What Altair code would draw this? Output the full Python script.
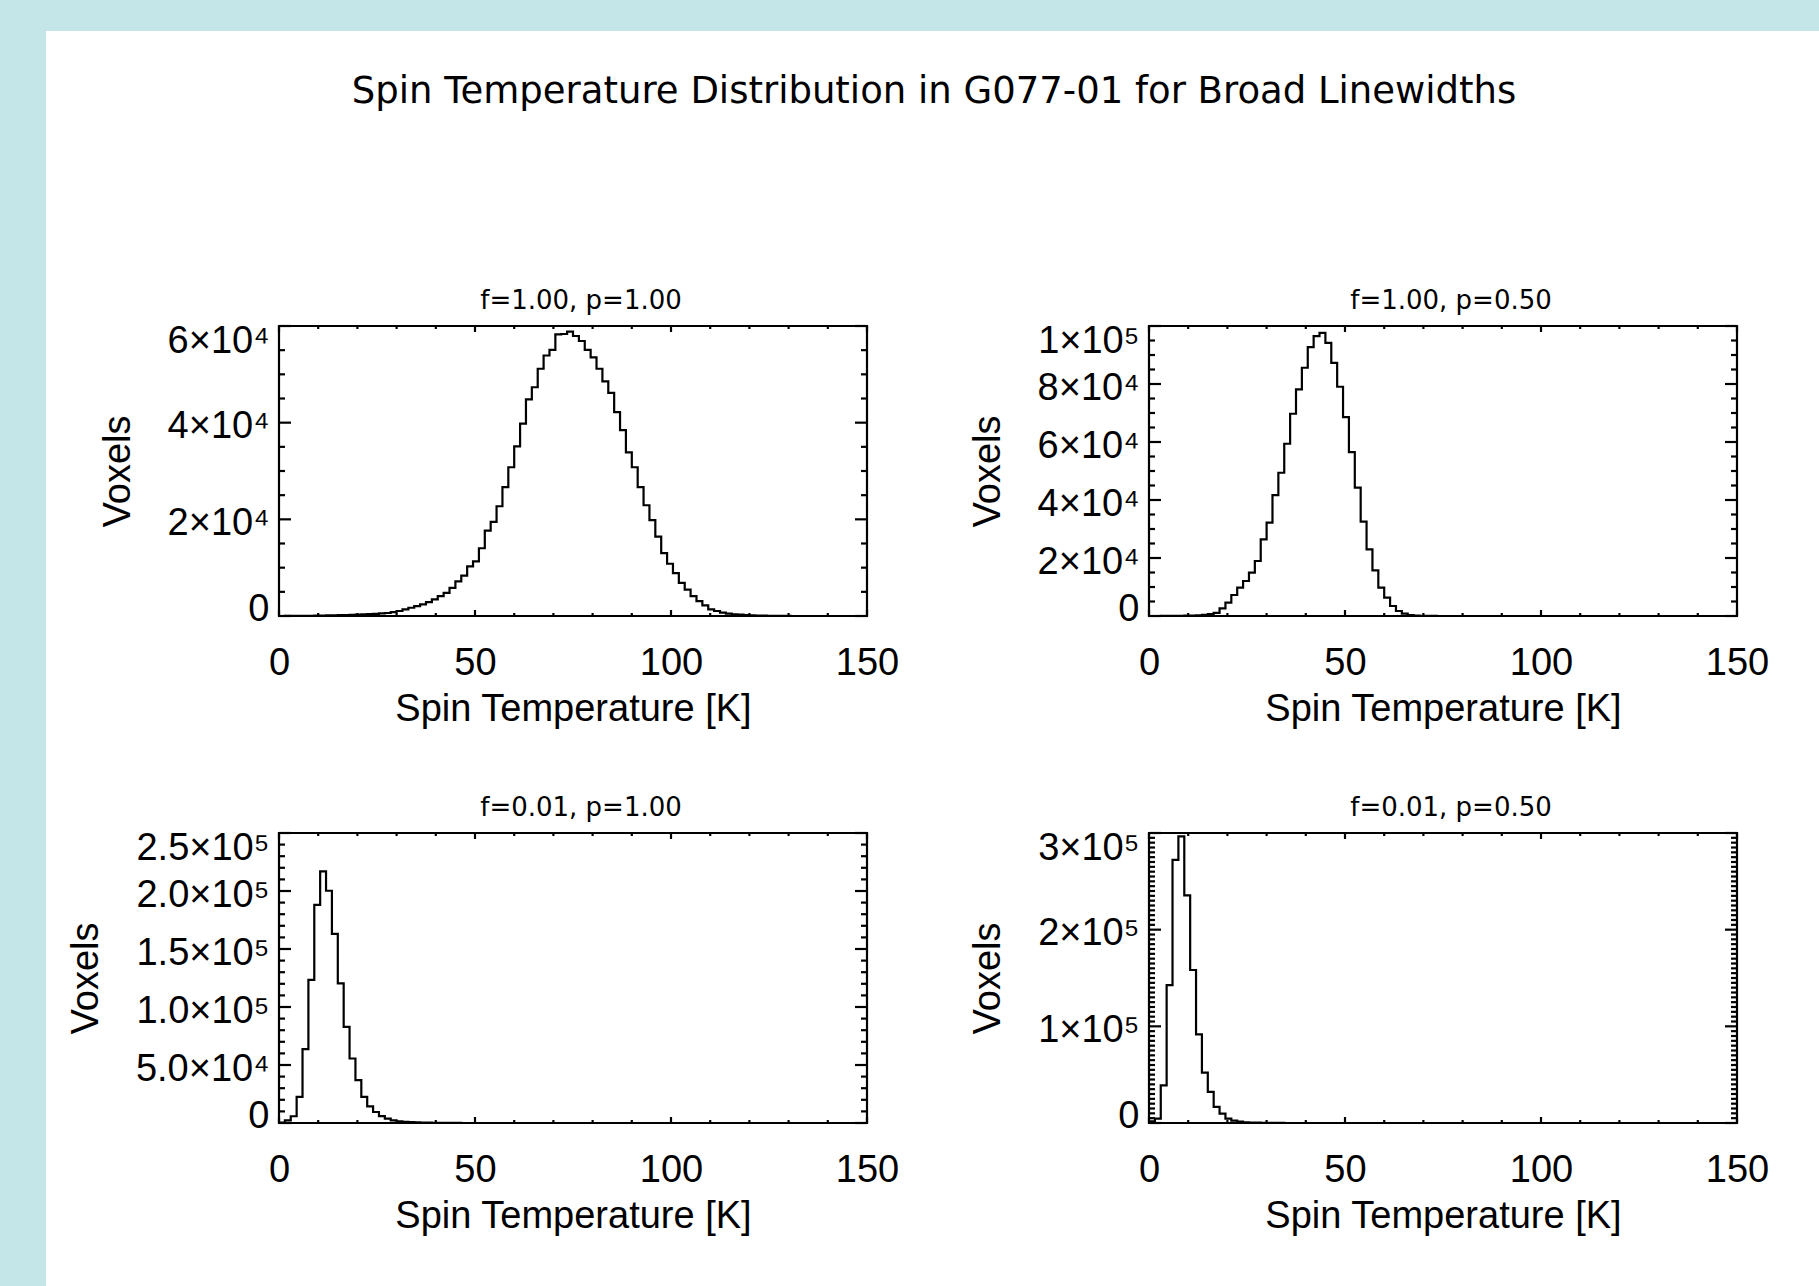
import altair as alt
import pandas as pd

CYAN = "#c5e6e8"
BIN_WIDTH = 1.5
N_BINS = 100
X_MAX = 150

TITLE = "Spin Temperature Distribution in G077-01 for Broad Linewidths"
X_TITLE = "Spin Temperature [K]"
Y_TITLE = "Voxels"
PANEL_TITLES = ["f=1.00, p=1.00", "f=1.00, p=0.50", "f=0.01, p=1.00", "f=0.01, p=0.50"]

X_TICKS = [0, 50, 100, 150]
X_MINOR = [10, 20, 30, 40, 60, 70, 80, 90, 110, 120, 130, 140]

# voxel counts per 1.5 K bin, starting at 0 K
COUNTS_F100_P100 = [
    0, 10, 20, 30, 40, 50, 70, 90, 110, 140,
    170, 200, 240, 280, 330, 390, 460, 540, 620, 800,
    1030, 1370, 1710, 2050, 2390, 2870, 3420, 4100, 4790, 5810,
    7180, 8340, 10260, 11290, 14020, 17650, 19490, 22710, 26680, 30780,
    35090, 39810, 44800, 47330, 51160, 53900, 55060, 58280, 58350, 58820,
    57930, 56900, 55060, 53490, 51160, 48560, 46170, 42200, 38440, 33860,
    30780, 26680, 22910, 19840, 16420, 13000, 10810, 8890, 6840, 5470,
    4100, 3080, 2190, 1370, 1030, 680, 480, 340, 270, 200,
    140, 100, 70, 50, 30, 20, 10,
]
COUNTS_F100_P050 = [
    0, 5, 10, 20, 35, 60, 100, 160, 250, 400,
    650, 1100, 2640, 4600, 7240, 9770, 12070, 14940, 18960, 26430,
    32170, 41710, 49400, 59400, 69750, 78130, 85600, 92700, 96500, 97650,
    94200, 87300, 79050, 68600, 56540, 44240, 32520, 22980, 15740, 9770,
    6320, 3450, 1720, 800, 350, 150, 70, 35, 15, 8,
    4, 2,
]
COUNTS_F001_P100 = [
    300, 2300, 5800, 22500, 63600, 123300, 188000, 216900, 200200, 163000,
    120400, 82900, 55600, 36900, 22500, 14400, 9500, 6000, 3700, 2300,
    1400, 1000, 700, 500, 350, 250, 170, 120, 80, 50,
    30, 20, 10,
]
COUNTS_F001_P050 = [
    1700, 4500, 39000, 142700, 272300, 296500, 235400, 158300, 91600, 52200,
    32100, 16600, 9700, 4500, 2400, 1400, 800, 500, 300, 200,
    100, 60, 30, 10,
]
COUNTS = [COUNTS_F100_P100, COUNTS_F100_P050, COUNTS_F001_P100, COUNTS_F001_P050]

Y_MAX = [60000, 100000, 250000, 300000]
Y_TICKS = [
    [0, 20000, 40000, 60000],
    [0, 20000, 40000, 60000, 80000, 100000],
    [0, 50000, 100000, 150000, 200000, 250000],
    [0, 100000, 200000, 300000],
]
Y_LABELS = [
    ["0", "2×10⁴", "4×10⁴", "6×10⁴"],
    ["0", "2×10⁴", "4×10⁴", "6×10⁴", "8×10⁴", "1×10⁵"],
    ["0", "5.0×10⁴", "1.0×10⁵", "1.5×10⁵", "2.0×10⁵", "2.5×10⁵"],
    ["0", "1×10⁵", "2×10⁵", "3×10⁵"],
]
Y_MINOR_STEP = [5000, 5000, 10000, 5000]

W, H = 588, 290
Y_MAJ_LEN, Y_MIN_LEN = 12, 6
X_MAJ_LEN, X_MIN_LEN = 6, 3
LW = 2.2
FONT = "Liberation Sans"


def label_expr(values, labels):
    parts = [f"datum.value == {v} ? '{l}'" for v, l in zip(values, labels)]
    return " : ".join(parts) + " : ''"


def panel(k):
    counts = COUNTS[k] + [0] * (N_BINS - len(COUNTS[k]))
    edges = [i * BIN_WIDTH for i in range(N_BINS + 1)]
    hist = pd.DataFrame({"t": edges, "n": counts + [counts[-1]]})
    xs = alt.Scale(domain=[0, X_MAX], nice=False, zero=False)
    ys = alt.Scale(domain=[0, Y_MAX[k]], nice=False)
    x_axis = alt.Axis(
        values=X_TICKS, title=X_TITLE, ticks=False, domain=False, grid=False,
        labelFlush=False, labelOverlap=False, labelPadding=28, titlePadding=8)
    y_axis = alt.Axis(
        values=Y_TICKS[k], labelExpr=label_expr(Y_TICKS[k], Y_LABELS[k]),
        title=Y_TITLE, ticks=False, domain=False, grid=False,
        labelFlush=True, labelFlushOffset=8, labelOffset=4, labelOverlap=False,
        labelPadding=10, titlePadding=30)

    line = alt.Chart(hist).mark_line(
        interpolate="step-after", color="black", strokeWidth=LW
    ).encode(
        x=alt.X("t:Q", scale=xs, axis=x_axis),
        y=alt.Y("n:Q", scale=ys, axis=y_axis),
    )

    ymaj = pd.DataFrame({"n": Y_TICKS[k]})
    ymin = pd.DataFrame({"n": [v for v in range(0, Y_MAX[k] + 1, Y_MINOR_STEP[k])
                               if v not in Y_TICKS[k]]})
    xmaj = pd.DataFrame({"t": X_TICKS})
    xmin = pd.DataFrame({"t": X_MINOR})

    def yrule(df, a, b):
        return alt.Chart(df).mark_rule(color="black", strokeWidth=LW).encode(
            y=alt.Y("n:Q", scale=ys, axis=y_axis), x=alt.value(a), x2=alt.value(b))

    def xrule(df, a, b):
        return alt.Chart(df).mark_rule(color="black", strokeWidth=LW).encode(
            x=alt.X("t:Q", scale=xs, axis=x_axis), y=alt.value(a), y2=alt.value(b))

    layers = [
        line,
        yrule(ymaj, 0, Y_MAJ_LEN), yrule(ymin, 0, Y_MIN_LEN),
        yrule(ymaj, W, W - Y_MAJ_LEN), yrule(ymin, W, W - Y_MIN_LEN),
        xrule(xmaj, H, H - X_MAJ_LEN), xrule(xmin, H, H - X_MIN_LEN),
        xrule(xmaj, 0, X_MAJ_LEN), xrule(xmin, 0, X_MIN_LEN),
    ]
    return alt.layer(*layers).properties(
        width=W, height=H,
        title=alt.TitleParams(PANEL_TITLES[k], font="DejaVu Sans", fontSize=26,
                              fontWeight="normal", color="black", offset=8, dx=8),
    )


grid = alt.concat(
    *[panel(k) for k in range(4)],
    columns=2,
    spacing={"row": 217, "column": 282},
    bounds="flush",
).properties(
    title=alt.TitleParams(TITLE, font="DejaVu Sans", fontSize=37, fontWeight="normal",
                          color="black", anchor="middle", offset=176, dx=16),
)


def strip(w, h, color):
    return alt.Chart(pd.DataFrame({"a": [0]})).mark_point(size=0, opacity=0).encode(
        x=alt.value(w / 2), y=alt.value(h / 2)
    ).properties(width=w, height=h,
                 view=alt.ViewBackground(fill=color, stroke=color, strokeWidth=0))


left_strip = strip(46, 1286, CYAN)
top_strip = strip(1773, 31, CYAN)
spacer = strip(20, 2, "white")

chart = alt.hconcat(
    left_strip,
    alt.vconcat(top_strip, alt.hconcat(spacer, grid, spacing=0), spacing=41),
    spacing=0,
).properties(
    background="white", padding=0,
).configure_view(
    stroke="black", strokeWidth=LW,
).configure_axis(
    labelFont=FONT, titleFont=FONT, labelFontSize=38, titleFontSize=38,
    labelColor="black", titleColor="black", titleFontWeight="normal",
)

chart.save("out.html", embed_options={"renderer": "svg", "actions": False})
